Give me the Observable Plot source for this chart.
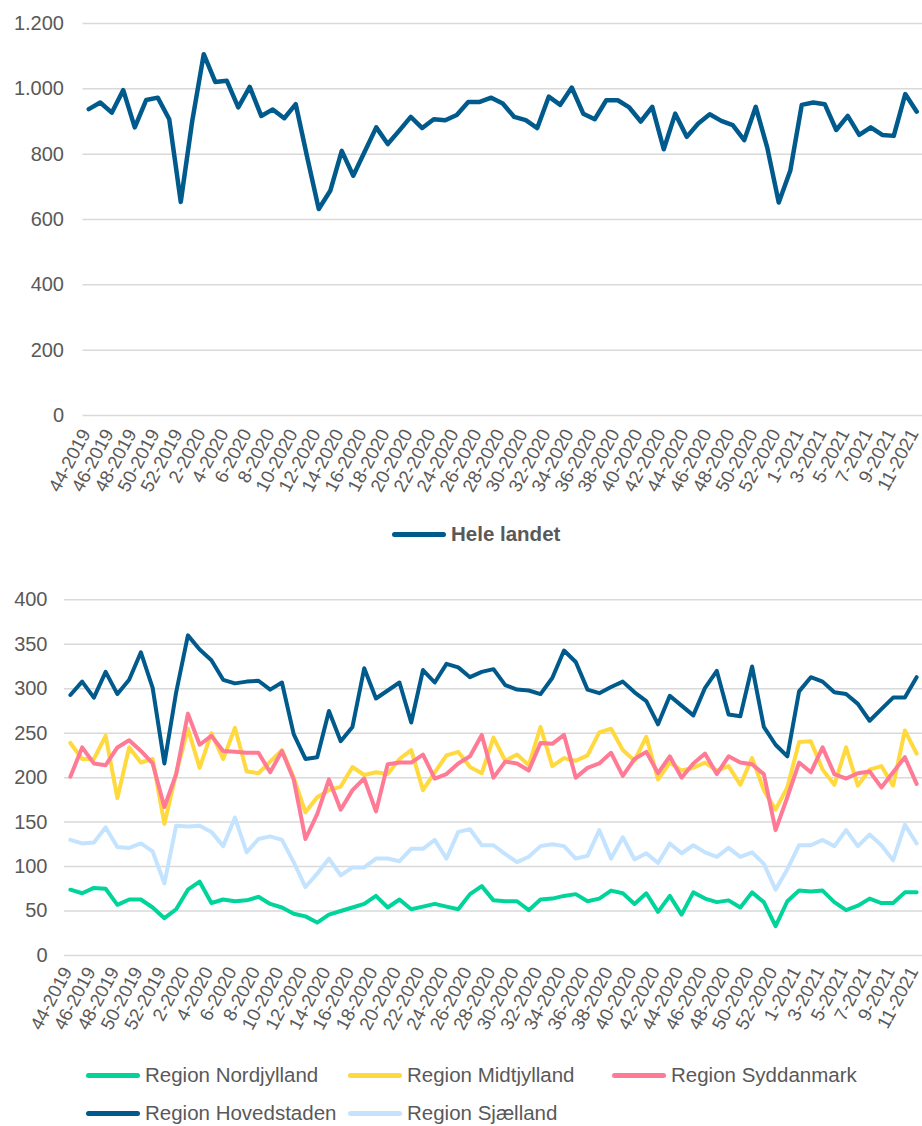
<!DOCTYPE html>
<html>
<head>
<meta charset="utf-8">
<script src="https://cdn.jsdelivr.net/npm/d3@7"></script>
<script src="https://cdn.jsdelivr.net/npm/@observablehq/plot@0.6"></script>
<style>
  body { margin: 0; background: #fff; font-family: "Liberation Sans", Arial, sans-serif; }
  #wrap { position: relative; width: 922px; height: 1126px; overflow: hidden; background: #fff; }
  #wrap svg { overflow: visible; }
  .abs { position: absolute; }
  .leg-line { display: inline-block; width: 54px; height: 5px; border-radius: 3px; vertical-align: middle; margin-right: 5px; }
  .leg-item { display: flex; align-items: center; color: #595959; font-size: 20.5px; white-space: nowrap; height: 30px; }
</style>
</head>
<body>
<div id="wrap"></div>
<script>
// Weekly categories (week-year)
const weeks = [
  "44-2019","45-2019","46-2019","47-2019","48-2019","49-2019","50-2019","51-2019","52-2019",
  "1-2020","2-2020","3-2020","4-2020","5-2020","6-2020","7-2020","8-2020","9-2020","10-2020",
  "11-2020","12-2020","13-2020","14-2020","15-2020","16-2020","17-2020","18-2020","19-2020","20-2020",
  "21-2020","22-2020","23-2020","24-2020","25-2020","26-2020","27-2020","28-2020","29-2020","30-2020",
  "31-2020","32-2020","33-2020","34-2020","35-2020","36-2020","37-2020","38-2020","39-2020","40-2020",
  "41-2020","42-2020","43-2020","44-2020","45-2020","46-2020","47-2020","48-2020","49-2020","50-2020",
  "51-2020","52-2020","53-2020",
  "1-2021","2-2021","3-2021","4-2021","5-2021","6-2021","7-2021","8-2021","9-2021","10-2021","11-2021"
];
const tickWeeks = weeks.filter((d, i) => i % 2 === 0);

// Top panel
const heleLandet = [
  938, 958, 927, 996, 882, 966, 973, 907, 654, 902,
  1106, 1021, 1025, 943, 1006, 917, 937, 910, 953, 790,
  632, 688, 810, 734, 808, 882, 831, 872, 914, 880,
  907, 904, 920, 960, 960, 973, 955, 914, 904, 880,
  976, 951, 1004, 924, 907, 965, 965, 943, 900, 945,
  815, 924, 853, 894, 922, 902, 889, 843, 945, 820,
  652, 749, 951, 958, 953, 874, 917, 859, 882, 859,
  856, 984, 930
];
const topTicks = [0, 200, 400, 600, 800, 1000, 1200];

// Bottom panel
const nordjylland = [
  74, 70, 76, 75, 57, 63, 63, 54, 42, 52,
  74, 83, 59, 63, 61, 62, 66, 58, 54, 47,
  44, 37, 46, 50, 54, 58, 67, 54, 63, 52,
  55, 58, 55, 52, 69, 78, 62, 61, 61, 51,
  63, 64, 67, 69, 61, 64, 73, 70, 58, 70,
  49, 67, 46, 71, 64, 60, 62, 54, 71, 60,
  33, 61, 73, 72, 73, 60, 51, 56, 64, 59,
  59, 71, 71
];
const midtjylland = [
  239, 221, 221, 247, 177, 234, 217, 221, 148, 205,
  255, 211, 250, 221, 256, 207, 205, 218, 231, 200,
  161, 178, 186, 190, 212, 203, 206, 204, 221, 231,
  186, 206, 225, 229, 212, 205, 245, 219, 226, 214,
  257, 213, 222, 219, 225, 251, 255, 231, 219, 246,
  198, 217, 208, 211, 217, 208, 213, 192, 222, 186,
  164, 189, 240, 241, 209, 192, 234, 191, 209, 213,
  191, 253, 227
];
const syddanmark = [
  201, 234, 216, 214, 234, 242, 230, 216, 167, 204,
  272, 237, 247, 230, 229, 228, 228, 206, 230, 198,
  131, 159, 198, 164, 186, 199, 162, 215, 217, 217,
  226, 199, 204, 216, 224, 248, 200, 218, 216, 208,
  239, 238, 248, 200, 211, 216, 228, 202, 221, 229,
  205, 224, 200, 216, 227, 204, 224, 217, 215, 204,
  141, 178, 217, 206, 234, 204, 199, 205, 207, 189,
  206, 223, 193
];
const hovedstaden = [
  293, 308, 290, 319, 294, 310, 341, 301, 216, 296,
  360, 344, 332, 310, 306, 308, 309, 299, 307, 249,
  221, 223, 275, 241, 257, 323, 289, 298, 307, 262,
  321, 307, 328, 324, 313, 319, 322, 304, 299, 298,
  294, 312, 343, 330, 299, 295, 302, 308, 296, 286,
  260, 292, 281, 270, 301, 320, 271, 269, 325, 257,
  237, 224, 297, 313, 308, 296, 294, 283, 264, 277,
  290, 290, 313
];
const sjaelland = [
  130, 126, 127, 144, 122, 121, 126, 117, 81, 146,
  145, 146, 139, 123, 155, 116, 131, 134, 130, 105,
  77, 92, 109, 90, 99, 99, 109, 109, 106, 120,
  120, 130, 109, 139, 142, 124, 124, 114, 105, 111,
  123, 125, 123, 109, 112, 141, 109, 133, 108, 115,
  104, 126, 115, 124, 116, 111, 121, 111, 116, 103,
  74, 97, 124, 124, 130, 123, 141, 123, 136, 124,
  107, 147, 126
];
const bottomTicks = [0, 50, 100, 150, 200, 250, 300, 350, 400];

const regionNames = ["Region Nordjylland", "Region Midtjylland", "Region Syddanmark", "Region Hovedstaden", "Region Sjælland"];
const regionValues = [nordjylland, midtjylland, syddanmark, hovedstaden, sjaelland];
const regionColors = ["#00D49A", "#FFD93D", "#FF7A95", "#005B8C", "#C4E3FF"];
const topName = "Hele landet";
const topColor = "#005B8C";

const FONT = "'Liberation Sans', Arial, sans-serif";
const fmt = d => d3.format(",")(d).replace(/,/g, ".");

const wrap = document.getElementById("wrap");

// ---------- top chart ----------
const topData = weeks.map((w, i) => ({week: w, value: heleLandet[i]}));
const topChart = Plot.plot({
  width: 922, height: 505,
  marginLeft: 82.5, marginRight: 0, marginTop: 23, marginBottom: 90,
  style: {fontFamily: FONT, fontSize: "20px", color: "#595959", background: "transparent", overflow: "visible"},
  x: {type: "point", domain: weeks, padding: 0.5, label: null},
  y: {domain: [0, 1200], label: null},
  marks: [
    Plot.gridY(topTicks, {stroke: "#D9D9D9", strokeOpacity: 1, strokeWidth: 1.5}),
    Plot.axisY(topTicks, {tickSize: 0, tickPadding: 19, tickFormat: fmt, fontSize: 20, label: null, fill: "#595959"}),
    Plot.axisX(tickWeeks, {tickSize: 0, tickPadding: 15, dx: -3, tickRotate: -62, fontSize: 18.5, label: null, fill: "#595959"}),
    Plot.line(topData, {x: "week", y: "value", stroke: topColor, strokeWidth: 4.5, strokeLinejoin: "round", strokeLinecap: "round"})
  ]
});
topChart.classList.add("abs");
topChart.style.left = "0px";
topChart.style.top = "0px";
wrap.appendChild(topChart);

// top legend
const topLeg = document.createElement("div");
topLeg.className = "abs leg-item";
topLeg.style.left = "392px";
topLeg.style.top = "519px";
topLeg.style.fontWeight = "bold";
topLeg.innerHTML = `<span class="leg-line" style="background:${topColor}"></span><span>${topName}</span>`;
wrap.appendChild(topLeg);

// ---------- bottom chart ----------
const botData = [];
regionNames.forEach((name, s) => {
  weeks.forEach((w, i) => botData.push({week: w, value: regionValues[s][i], region: name}));
});
const botChart = Plot.plot({
  width: 922, height: 460,
  marginLeft: 64, marginRight: 0, marginTop: 19.3, marginBottom: 85,
  style: {fontFamily: FONT, fontSize: "20px", color: "#595959", background: "transparent", overflow: "visible"},
  x: {type: "point", domain: weeks, padding: 0.5, label: null},
  y: {domain: [0, 400], label: null},
  color: {domain: regionNames, range: regionColors},
  marks: [
    Plot.gridY(bottomTicks, {stroke: "#D9D9D9", strokeOpacity: 1, strokeWidth: 1.5}),
    Plot.axisY(bottomTicks, {tickSize: 0, tickPadding: 17, fontSize: 20, label: null, fill: "#595959"}),
    Plot.axisX(tickWeeks, {tickSize: 0, tickPadding: 13, dx: -3, tickRotate: -62, fontSize: 18.5, label: null, fill: "#595959"}),
    Plot.line(botData, {x: "week", y: "value", z: "region", stroke: "region", strokeWidth: 4, strokeLinejoin: "round", strokeLinecap: "round"})
  ]
});
botChart.classList.add("abs");
botChart.style.left = "0px";
botChart.style.top = "580px";
wrap.appendChild(botChart);

// bottom legend
const botLeg = document.createElement("div");
botLeg.className = "abs";
botLeg.style.left = "86px";
botLeg.style.top = "1060px";
botLeg.style.display = "grid";
botLeg.style.gridTemplateColumns = "262px 264px auto";
botLeg.style.rowGap = "8px";
regionNames.forEach((name, i) => {
  const item = document.createElement("div");
  item.className = "leg-item";
  item.innerHTML = `<span class="leg-line" style="background:${regionColors[i]}"></span><span>${name}</span>`;
  botLeg.appendChild(item);
});
wrap.appendChild(botLeg);
</script>
</body>
</html>
